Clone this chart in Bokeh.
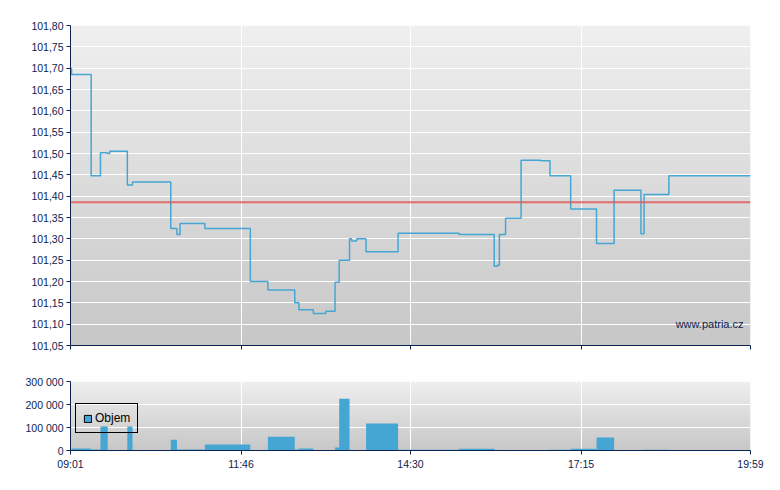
import numpy as np
from bokeh.plotting import figure
from bokeh.layouts import column
from bokeh.models import (FixedTicker, Range1d, Legend, LegendItem, Span, Label,
                          ColumnDataSource)
from bokeh.embed import file_html
from bokeh.resources import INLINE

# ---------------- data ----------------
trade_times = ["09:01", "09:02", "09:21", "09:30", "09:37", "09:39", "09:56", "10:01",
               "10:38", "10:44", "10:47", "11:11", "11:55", "12:12", "12:38", "12:42",
               "12:56", "13:08", "13:17", "13:21", "13:31", "13:33", "13:38", "13:47",
               "14:18", "15:17", "15:51", "15:54", "15:56", "16:02", "16:17", "16:36",
               "16:45", "17:05", "17:30", "17:47", "18:13", "18:16", "18:40"]
prices = [101.699, 101.685, 101.448, 101.502, 101.500, 101.505, 101.426, 101.433,
          101.324, 101.310, 101.336, 101.324, 101.200, 101.180, 101.150, 101.134,
          101.125, 101.130, 101.198, 101.250, 101.300, 101.295, 101.300, 101.270,
          101.313, 101.310, 101.236, 101.238, 101.310, 101.348, 101.484, 101.483,
          101.448, 101.370, 101.289, 101.414, 101.312, 101.404, 101.448]
volumes = [0, 9000, 4000, 104000, 0, 0, 104000, 0,
           47000, 4000, 4000, 26000, 0, 60000, 4000, 9000,
           0, 0, 13000, 225000, 0, 0, 0, 117000,
           3000, 8000, 3000, 0, 2000, 0, 0, 0,
           3000, 8000, 56000, 0, 0, 3000, 0]
session_end = "19:59"
ref_price = 101.386
x_tick_labels = ["09:01", "11:46", "14:30", "17:15", "19:59"]
price_ticks = [101.05, 101.10, 101.15, 101.20, 101.25, 101.30, 101.35, 101.40,
               101.45, 101.50, 101.55, 101.60, 101.65, 101.70, 101.75, 101.80]
vol_ticks = [0, 100000, 200000, 300000]
legend_label = "Objem"
watermark = "www.patria.cz"


def to_min(s):
    h, m = s.split(":")
    return int(h) * 60 + int(m)


t = [to_min(s) for s in trade_times]
t_end = to_min(session_end)
t0 = t[0]
x_ticks = [to_min(s) for s in x_tick_labels]

NAVY = "#0b2350"
BLUE = "#46a6d3"
FONT = "Liberation Sans"
FS = "10.5px"


def gradient(top, bottom, n=200):
    vals = np.linspace(bottom, top, n)
    img = np.empty((n, 1), dtype=np.uint32)
    view = img.view(dtype=np.uint8).reshape((n, 1, 4))
    for i, val in enumerate(vals):
        c = int(round(val))
        view[i, 0, :] = [c, c, c, 255]
    return img


def style(p):
    p.outline_line_color = None
    p.background_fill_color = "white"
    p.border_fill_color = "white"
    for ax in (p.xaxis[0], p.yaxis[0]):
        ax.axis_line_color = NAVY
        ax.major_tick_line_color = NAVY
        ax.minor_tick_line_color = None
        ax.major_tick_out = 4
        ax.major_tick_in = 0
        ax.major_label_text_color = NAVY
        ax.major_label_text_font = FONT
        ax.major_label_text_font_size = FS
        ax.major_label_standoff = 3
    p.xgrid.grid_line_color = "white"
    p.ygrid.grid_line_color = "white"
    p.xgrid.grid_line_width = 1
    p.ygrid.grid_line_width = 1


x_range = Range1d(t0, t_end)

# ---------------- price chart ----------------
p = figure(frame_width=680, frame_height=320, x_range=x_range,
           y_range=Range1d(price_ticks[0], price_ticks[-1]),
           output_backend="svg", toolbar_location=None,
           min_border_left=70, min_border_right=22, min_border_top=25,
           min_border_bottom=24)
style(p)
p.image_rgba(image=[gradient(239, 199)], x=t0, y=price_ticks[0], dw=t_end - t0,
             dh=price_ticks[-1] - price_ticks[0], level="image")
p.xaxis.ticker = FixedTicker(ticks=x_ticks)
p.xgrid.ticker = FixedTicker(ticks=x_ticks)
p.xaxis.major_label_overrides = {x: "" for x in x_ticks}
p.yaxis.ticker = FixedTicker(ticks=price_ticks)
p.ygrid.ticker = FixedTicker(ticks=price_ticks)
p.yaxis.major_label_overrides = {val: f"{val:.2f}".replace(".", ",") for val in price_ticks}

p.add_layout(Span(location=ref_price, dimension="width", line_color="#e05a5a",
                  line_width=2, line_alpha=0.85))
p.step(x=t + [t_end], y=prices + [prices[-1]], mode="after", line_color=BLUE,
       line_width=1.5)
p.add_layout(Label(x=t_end, y=price_ticks[0], x_offset=-7, y_offset=22,
                   text=watermark, text_align="right", text_baseline="middle",
                   text_color=NAVY, text_font=FONT, text_font_size="11px"))

# ---------------- volume chart ----------------
v = figure(frame_width=680, frame_height=69, x_range=x_range,
           y_range=Range1d(vol_ticks[0], vol_ticks[-1]),
           output_backend="svg", toolbar_location=None,
           min_border_left=70, min_border_right=22, min_border_top=12,
           min_border_bottom=30)
style(v)
v.image_rgba(image=[gradient(239, 199)], x=t0, y=vol_ticks[0], dw=t_end - t0,
             dh=vol_ticks[-1] - vol_ticks[0], level="image")
v.xaxis.ticker = FixedTicker(ticks=x_ticks)
v.xgrid.ticker = FixedTicker(ticks=x_ticks)
v.xaxis.major_label_overrides = {x: s for x, s in zip(x_ticks, x_tick_labels)}
v.yaxis.ticker = FixedTicker(ticks=vol_ticks)
v.ygrid.ticker = FixedTicker(ticks=vol_ticks)
v.yaxis.major_label_overrides = {val: f"{val:,}".replace(",", " ") for val in vol_ticks}

lefts, rights, tops = [], [], []
ends = t[1:] + [t_end]
for a, b, vol in zip(t, ends, volumes):
    if vol > 0:
        lefts.append(a)
        rights.append(b)
        tops.append(vol)
src = ColumnDataSource(dict(left=lefts, right=rights, top=tops,
                            bottom=[0] * len(tops)))
v.quad(left="left", right="right", top="top", bottom="bottom", source=src,
       fill_color=BLUE, line_color=None)

# legend swatch: same bars with a black outline, hidden in the plot itself
swatch = v.quad(left="left", right="right", top="top", bottom="bottom", source=src,
                fill_color=BLUE, line_color="black", line_width=1, visible=False)
legend = Legend(items=[LegendItem(label=legend_label, renderers=[swatch])],
                location=(5, 17), orientation="vertical",
                border_line_color="black", border_line_width=1.2,
                border_line_alpha=1.0,
                background_fill_alpha=0, label_text_font=FONT,
                label_text_font_size="12px", label_text_color="black",
                glyph_width=9, glyph_height=9, label_standoff=3,
                padding=7, margin=0, spacing=0, label_height=14)
v.add_layout(legend)

layout = column(p, v, spacing=0)
open("out.html", "w").write(file_html(layout, INLINE))
